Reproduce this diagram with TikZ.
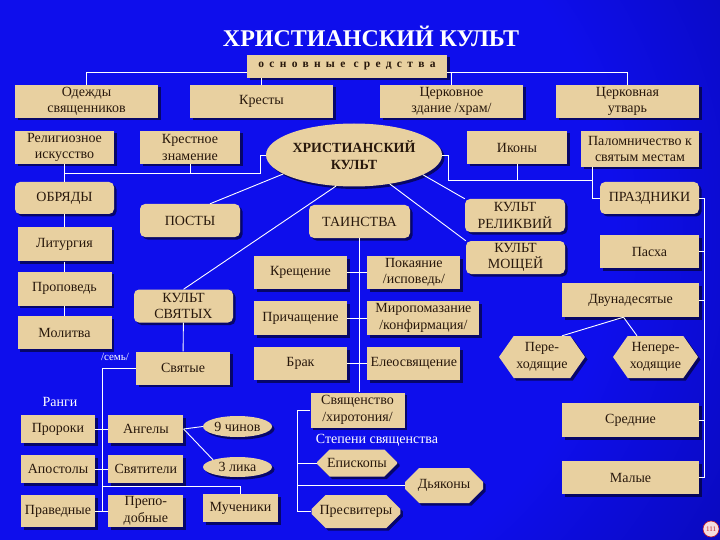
\documentclass[tikz,border=0pt]{standalone}
\usepackage{fontspec}
\setmainfont{Liberation Serif}
\usetikzlibrary{positioning,shapes.geometric,shapes.misc,shapes.symbols,shadows}
\definecolor{bgbright}{RGB}{14,14,236}
\definecolor{bgdark}{RGB}{0,0,88}
\definecolor{parch}{RGB}{232,208,160}
\definecolor{ink}{RGB}{40,24,12}
\definecolor{stamp}{RGB}{190,30,40}
\pgfdeclareradialshading{slidebg}{\pgfpointorigin}{color(0bp)=(bgbright); color(12bp)=(bgbright); color(32bp)=(bgdark); color(50bp)=(bgdark)}
\newcommand{\cultfont}{\fontsize{14}{16.5}\selectfont}

\begin{document}
\begin{tikzpicture}[
    x=1pt,y=-1pt,
    box/.style={fill=parch,text=ink,align=center,inner sep=1pt,font=\cultfont,
        drop shadow={shadow xshift=2.5pt,shadow yshift=-2.5pt,fill=black,opacity=.55}},
    rbox/.style={box,rounded corners=5pt},
    obox/.style={box,chamfered rectangle,chamfered rectangle xsep=7pt,chamfered rectangle ysep=7pt},
    hbox/.style={box,signal,signal to=west and east,signal pointer angle=110},
    ebox/.style={box,ellipse,inner sep=0pt},
    conn/.style={white,line width=.9pt},
    note/.style={text=white,font=\cultfont}
    ]
    % background
    \useasboundingbox (0,0) rectangle (720,540);
    \fill[bgdark] (0,0) rectangle (720,540);
    \begin{scope}
        \clip (0,0) rectangle (720,540);
        \shade[shading=slidebg] (230,230) circle (800);
    \end{scope}

    \node[text=white,font=\bfseries\fontsize{24}{28}\selectfont] (title) at (371,36) {ХРИСТИАНСКИЙ КУЛЬТ};
    \node[box,minimum width=200pt,minimum height=23pt,font=\bfseries\fontsize{11.5}{13}\selectfont\addfontfeatures{LetterSpace=46}] (sredstva) at (347,66.5) {основные средства};

    % top rows
    \node[box,minimum width=143pt,minimum height=33pt] (odezhdy) at (86.5,101.5) {Одежды\\священников};
    \node[box,minimum width=143pt,minimum height=33pt] (kresty) at (261.5,101.5) {Кресты};
    \node[box,minimum width=143pt,minimum height=33pt] (zdanie) at (451.5,101.5) {Церковное\\здание /храм/};
    \node[box,minimum width=143pt,minimum height=33pt] (utvar) at (627.5,101.5) {Церковная\\утварь};
    \node[box,minimum width=99pt,minimum height=33pt] (iskusstvo) at (64.5,147.5) {Религиозное\\искусство};
    \node[box,minimum width=100pt,minimum height=33pt] (znamenie) at (190,147.5) {Крестное\\знамение};
    \node[ebox,minimum width=176pt,minimum height=63pt,font=\bfseries\fontsize{14}{17}\selectfont] (kult) at (354,155) {ХРИСТИАНСКИЙ\\КУЛЬТ};
    \node[box,minimum width=100pt,minimum height=33pt] (ikony) at (517,147.5) {Иконы};
    \node[box,minimum width=118pt,minimum height=36pt] (palomn) at (640,149) {Паломничество к\\святым местам};

    % second level
    \node[rbox,minimum width=99pt,minimum height=32pt] (obryady) at (64.5,198) {ОБРЯДЫ};
    \node[rbox,minimum width=100pt,minimum height=33pt] (posty) at (190,220.5) {ПОСТЫ};
    \node[rbox,minimum width=101pt,minimum height=33pt] (tainstva) at (359.5,221.5) {ТАИНСТВА};
    \node[rbox,minimum width=100pt,minimum height=33pt] (relikvii) at (515,215.5) {КУЛЬТ\\РЕЛИКВИЙ};
    \node[rbox,minimum width=99pt,minimum height=33pt] (moshchei) at (515.5,257.5) {КУЛЬТ\\МОЩЕЙ};
    \node[rbox,minimum width=99pt,minimum height=32pt] (prazdniki) at (649.5,198) {ПРАЗДНИКИ};
    \node[rbox,minimum width=99pt,minimum height=33pt] (kultsvyat) at (183.5,306) {КУЛЬТ\\СВЯТЫХ};

    % rites
    \node[box,minimum width=94pt,minimum height=34pt,below=13pt of obryady] (liturgiya) {Литургия};
    \node[box,minimum width=94pt,minimum height=34pt,below=10pt of liturgiya] (propoved) {Проповедь};
    \node[box,minimum width=94pt,minimum height=33pt,below=10pt of propoved] (molitva) {Молитва};

    % sacraments
    \node[box,minimum width=93pt,minimum height=33pt] (kreshchenie) at (300.5,272.5) {Крещение};
    \node[box,minimum width=93pt,minimum height=33pt,right=20pt of kreshchenie] (pokayanie) {Покаяние\\/исповедь/};
    \node[box,minimum width=93pt,minimum height=34pt] (prichashchenie) at (300.5,318) {Причащение};
    \node[box,minimum width=112pt,minimum height=34pt,right=20pt of prichashchenie] (miropomazanie) {Миропомазание\\/конфирмация/};
    \node[box,minimum width=93pt,minimum height=33pt] (brak) at (300.5,363.5) {Брак};
    \node[box,minimum width=93pt,minimum height=33pt,right=20pt of brak] (eleosv) {Елеосвящение};
    \node[box,minimum width=94pt,minimum height=35pt] (svyashchenstvo) at (357.5,410) {Священство\\/хиротония/};
    \node[note] (stepeni) at (377,440) {Степени священства};
    \node[obox,minimum width=80pt,minimum height=27pt] (episkopy) at (357,463) {Епископы};
    \node[obox,minimum width=78pt,minimum height=35pt] (diakony) at (444,485.5) {Дьяконы};
    \node[obox,minimum width=78pt,minimum height=33pt] (presvitery) at (356,511.5) {Пресвитеры};

    % saints
    \node[box,minimum width=94pt,minimum height=33pt] (svyatye) at (183,368) {Святые};
    \node[note,font=\fontsize{11}{13}\selectfont] (sem) at (115,357) {/семь/};
    \node[note] (rangi) at (60,402) {Ранги};
    \node[box,minimum width=74pt,minimum height=28pt] (proroki) at (58,429) {Пророки};
    \node[box,minimum width=75pt,minimum height=28pt,right=13pt of proroki] (angely) {Ангелы};
    \node[box,minimum width=74pt,minimum height=28pt] (apostoly) at (58,469) {Апостолы};
    \node[box,minimum width=75pt,minimum height=28pt,right=13pt of apostoly] (svyatiteli) {Святители};
    \node[box,minimum width=74pt,minimum height=32pt] (pravednye) at (58,511) {Праведные};
    \node[box,minimum width=75pt,minimum height=32pt,right=13pt of pravednye] (prepodobnye) {Препо-\\добные};
    \node[box,minimum width=75pt,minimum height=28pt] (mucheniki) at (240.5,508) {Мученики};
    \node[ebox,minimum width=69pt,minimum height=21pt] (chinov) at (237.5,426.5) {9 чинов};
    \node[ebox,minimum width=69pt,minimum height=20pt] (lika) at (237.5,467) {3 лика};

    % feasts
    \node[box,minimum width=99pt,minimum height=33pt] (pascha) at (649.5,251.5) {Пасха};
    \node[box,minimum width=137pt,minimum height=34pt] (dvunadesyat) at (630.5,300) {Двунадесятые};
    \node[hbox,minimum width=86pt,minimum height=42pt] (perekhod) at (542,357) {Пере-\\ходящие};
    \node[hbox,minimum width=85pt,minimum height=42pt] (neperekhod) at (655.5,357) {Непере-\\ходящие};
    \node[box,minimum width=137pt,minimum height=34pt] (srednie) at (630.5,420) {Средние};
    \node[box,minimum width=137pt,minimum height=33pt] (malye) at (630.5,477.5) {Малые};

    \node[circle,fill=white!85!stamp,draw=stamp,line width=.6pt,inner sep=.5pt,minimum size=16pt,text=stamp,font=\fontsize{7}{8}\selectfont] (page) at (711,529) {111};

    % connectors
    \coordinate (lbus) at (260,173);
    \coordinate (rbus) at (448,180);
    \coordinate (rcorner) at (592,180);
    \coordinate (sbus) at (297,410);
    \coordinate (vbus) at (102,511);
    \coordinate (mbus) at (102,486);
    \coordinate (hbus) at (704,198);
    \draw[conn] (odezhdy.north) |- ([yshift=-5.5pt]sredstva.west);
    \draw[conn] ([yshift=-5.5pt]sredstva.east) -| (utvar.north);
    \draw[conn] (zdanie.north) -- (zdanie.north |- 0,72);
    \draw[conn] (kresty.north |- sredstva.south) -- (kresty.north);
    \draw[conn] (kult.west) -| (lbus) -- (lbus -| iskusstvo.south);
    \draw[conn] (iskusstvo.south) -- (obryady.north);
    \draw[conn] (znamenie.south) -- (znamenie.south |- lbus);
    \draw[conn] (kult.east) -| (rbus) -- (rcorner) |- (prazdniki.west);
    \draw[conn] (palomn.south -| rcorner) -- (rcorner);
    \draw[conn] (ikony.south) -- (ikony.south |- rbus);
    \draw[conn] (kult.195) -- ([xshift=20pt]posty.north);
    \draw[conn] (kult.240) -- (kultsvyat.north);
    \draw[conn] (kult.-16) -- (relikvii.north west);
    \draw[conn] (kult.-39) -- (moshchei.north west);
    \draw[conn] (obryady) -- (liturgiya);
    \draw[conn] (liturgiya) -- (propoved);
    \draw[conn] (propoved) -- (molitva);
    \draw[conn] (tainstva.south) -- (tainstva.south |- svyashchenstvo.north);
    \draw[conn] (kreshchenie) -- (pokayanie);
    \draw[conn] (prichashchenie) -- (miropomazanie);
    \draw[conn] (brak) -- (eleosv);
    \draw[conn] (svyashchenstvo.west) -- (sbus) |- (presvitery.west);
    \draw[conn] (episkopy.west) -- (episkopy.west -| sbus);
    \draw[conn] (diakony.west) -- (diakony.west -| sbus);
    \draw[conn] (kultsvyat) -- (svyatye);
    \draw[conn] (svyatye.west) -- (svyatye.west -| vbus) -- (vbus);
    \draw[conn] (proroki) -- (angely);
    \draw[conn] (apostoly) -- (svyatiteli);
    \draw[conn] (pravednye) -- (prepodobnye);
    \draw[conn] (mbus) -| (mucheniki.north);
    \draw[conn] (angely.east) -- (chinov.west);
    \draw[conn] (angely.east) -- (lika.north west);
    \draw[conn] (prazdniki.east) -- (hbus) |- (malye.east);
    \draw[conn] (pascha.east) -- (pascha.east -| hbus);
    \draw[conn] (dvunadesyat.east) -- (dvunadesyat.east -| hbus);
    \draw[conn] (srednie.east) -- (srednie.east -| hbus);
    \draw[conn] ([xshift=-7pt]dvunadesyat.south) -- ([xshift=20pt]perekhod.north);
    \draw[conn] ([xshift=-7pt]dvunadesyat.south) -- ([xshift=-18.5pt]neperekhod.north);
\end{tikzpicture}
\end{document}
